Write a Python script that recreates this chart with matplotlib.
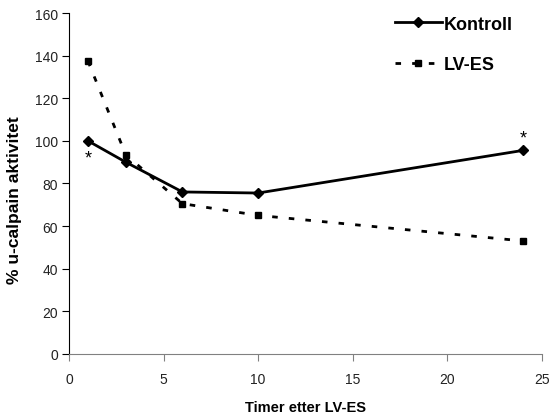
import matplotlib
matplotlib.use('Agg')
import matplotlib.pyplot as plt

plt.rcParams['font.family'] = ['Liberation Sans', 'DejaVu Sans']

# timer etter LV-ES
timer = [1, 3, 6, 10, 24]
kontroll = [100, 90, 76, 75.5, 95.5]
lves = [137.5, 93.5, 70.5, 65, 53]

# stjerner (signifikans)
stjerne_x = [1, 24]
stjerne_y = [92, 101.5]

fig = plt.figure(figsize=(5.5, 4.14), dpi=100)
ax = fig.add_axes([0.1255, 0.143, 0.8595, 0.823])

ax.plot(timer, kontroll, '-', color='black', lw=2, marker='D', ms=5, label='Kontroll')
ax.plot(timer, lves, color='black', lw=2, ls=(0, (2, 4)), marker='s', ms=5, label='LV-ES')

for x, y in zip(stjerne_x, stjerne_y):
    ax.text(x, y, '*', ha='center', va='center', fontsize=13)

ax.set_xlim(0, 25)
ax.set_ylim(0, 160)
ax.set_xticks([0, 5, 10, 15, 20, 25])
ax.set_yticks(range(0, 161, 20))
ax.spines['top'].set_visible(False)
ax.spines['right'].set_visible(False)
ax.spines['left'].set_color('black')
ax.spines['bottom'].set_color('#808080')
ax.tick_params(direction='out', length=5, labelsize=10, colors='black', labelcolor='#222222')
ax.tick_params(axis='x', pad=8, color='#808080')
ax.tick_params(axis='y', pad=3)

ax.set_xlabel('Timer etter LV-ES', fontsize=10.5, fontweight='bold', labelpad=10)
# y-tittelen sitter litt under midten i originalen
fig.text(15 / 550, 1 - 200 / 414, '% u-calpain aktivitet', rotation=90,
         ha='center', va='center', fontsize=12.5, fontweight='bold')

leg = ax.legend(loc='upper left', bbox_to_anchor=(0.655, 1.04), frameon=False,
                handlelength=2.6, handletextpad=0.1, labelspacing=1.3,
                prop={'weight': 'bold', 'size': 13})

fig.savefig('out.png', dpi=100)
